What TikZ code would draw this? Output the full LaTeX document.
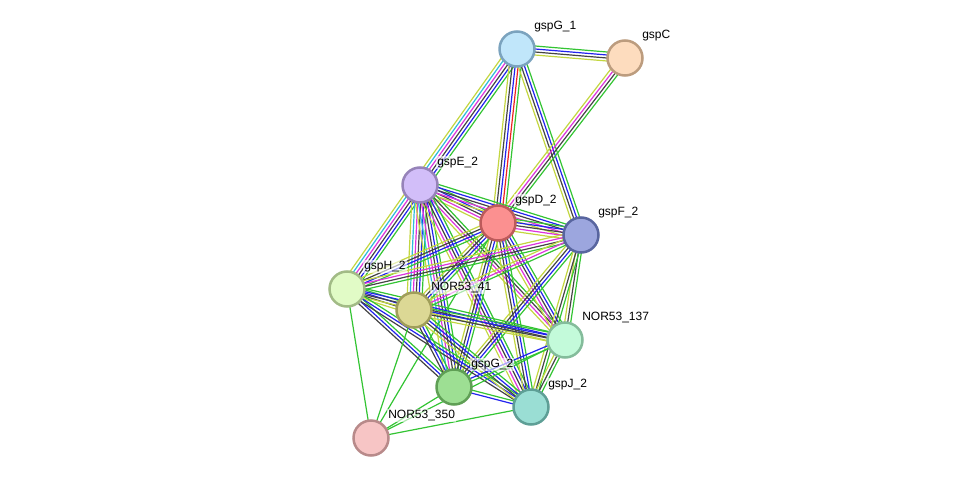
\documentclass[tikz,border=0pt]{standalone}
\usepackage{fontspec}
\setmainfont{Liberation Sans}
\usetikzlibrary{calc,backgrounds}

% evidence colours
\definecolor{cTxt}{HTML}{C3D640}
\definecolor{cDb}{HTML}{2EBBDB}
\definecolor{cExp}{HTML}{DD33DD}
\definecolor{cCoex}{HTML}{444444}
\definecolor{cCooc}{HTML}{2222EE}
\definecolor{cFus}{HTML}{EE2222}
\definecolor{cNbh}{HTML}{33C433}

% #1, #2 node names, #3 list of colours
\newcommand\link[3]{%
  \foreach \c [count=\i] in {#3} {\xdef\nlines{\i}}
  \foreach \c [count=\i] in {#3} {
    \pgfmathsetmacro\off{(\i-(\nlines+1)/2)*3}
    \draw[color=\c, line width=1.2pt] ($(#1.center)!\off pt!90:(#2.center)$) -- ($(#2.center)!\off pt!-90:(#1.center)$);
  }
}

\begin{document}
\begin{tikzpicture}[x=1pt, y=-1pt,
  prot/.style={circle, draw, line width=2.5pt, minimum size=35pt, inner sep=0pt,
    label={[lbl]north east:#1}},
  lbl/.style={font=\fontsize{12}{14}\selectfont, inner sep=1pt, fill=white,
    fill opacity=0.6, text opacity=1, label distance=4pt}]
  \useasboundingbox (0,0) rectangle (976,484);

  \node[prot=gspG\_1, fill={rgb,255:red,192;green,230;blue,250}, draw={rgb,255:red,123;green,163;blue,190}] (gspGa) at (517,49) {};
  \node[prot=gspC, fill={rgb,255:red,253;green,220;blue,190}, draw={rgb,255:red,188;green,156;blue,126}] (gspC) at (625,58) {};
  \node[prot=gspE\_2, fill={rgb,255:red,210;green,190;blue,249}, draw={rgb,255:red,150;green,131;blue,185}] (gspE) at (420,185) {};
  \node[prot=gspD\_2, fill={rgb,255:red,251;green,144;blue,144}, draw={rgb,255:red,189;green,91;blue,91}] (gspD) at (498,223) {};
  \node[prot=gspF\_2, fill={rgb,255:red,156;green,166;blue,222}, draw={rgb,255:red,88;green,101;blue,159}] (gspF) at (581,235) {};
  \node[prot=gspH\_2, fill={rgb,255:red,225;green,251;blue,198}, draw={rgb,255:red,162;green,187;blue,134}] (gspH) at (347,289) {};
  \node[prot=NOR53\_41, fill={rgb,255:red,220;green,216;blue,149}, draw={rgb,255:red,160;green,158;blue,90}] (nor41) at (414,310) {};
  \node[prot=NOR53\_137, fill={rgb,255:red,195;green,250;blue,218}, draw={rgb,255:red,132;green,188;blue,155}] (nor137) at (565,340) {};
  \node[prot=gspG\_2, fill={rgb,255:red,157;green,223;blue,147}, draw={rgb,255:red,95;green,159;blue,85}] (gspGb) at (454,387) {};
  \node[prot=gspJ\_2, fill={rgb,255:red,154;green,222;blue,212}, draw={rgb,255:red,94;green,159;blue,150}] (gspJ) at (531,407) {};
  \node[prot=NOR53\_350, fill={rgb,255:red,247;green,197;blue,197}, draw={rgb,255:red,184;green,138;blue,138}] (nor350) at (371,438) {};

  \begin{pgfonlayer}{background}
    \link{gspGa}{gspC}{cTxt,cCoex,cCooc,cNbh}
    \link{gspGa}{gspE}{cTxt,cDb,cExp,cCoex,cCooc,cNbh}
    \link{gspGa}{gspD}{cTxt,cCoex,cCooc,cFus,cNbh}
    \link{gspGa}{gspF}{cTxt,cCoex,cCooc,cNbh}
    \link{gspC}{gspD}{cTxt,cExp,cCoex,cNbh}
    \link{gspE}{gspD}{cTxt,cExp,cCoex,cCooc,cNbh}
    \link{gspE}{gspF}{cTxt,cExp,cCoex,cCooc,cNbh}
    \link{gspE}{gspH}{cTxt,cDb,cExp,cCoex,cCooc,cNbh}
    \link{gspE}{nor41}{cTxt,cDb,cExp,cCoex,cCooc,cNbh}
    \link{gspE}{nor137}{cTxt,cExp,cCoex,cNbh}
    \link{gspE}{gspGb}{cTxt,cDb,cExp,cCoex,cCooc,cNbh}
    \link{gspE}{gspJ}{cTxt,cExp,cCoex,cCooc,cNbh}
    \link{gspD}{gspF}{cTxt,cExp,cCoex,cCooc,cNbh}
    \link{gspD}{gspH}{cTxt,cCoex,cCooc,cNbh}
    \link{gspD}{nor41}{cTxt,cCoex,cCooc,cNbh}
    \link{gspD}{nor137}{cTxt,cExp,cCoex,cCooc,cNbh}
    \link{gspD}{gspGb}{cTxt,cCoex,cCooc,cNbh}
    \link{gspD}{gspJ}{cTxt,cCoex,cCooc,cNbh}
    \link{gspD}{nor350}{cNbh}
    \link{gspF}{gspH}{cTxt,cExp,cCoex,cNbh}
    \link{gspF}{nor41}{cTxt,cExp,cNbh}
    \link{gspF}{nor137}{cTxt,cCoex,cNbh}
    \link{gspF}{gspGb}{cTxt,cCoex,cCooc,cNbh}
    \link{gspF}{gspJ}{cTxt,cCoex,cNbh}
    \link{gspH}{nor41}{cTxt,cCoex,cCooc,cNbh}
    \link{gspH}{nor137}{cTxt,cCoex,cCooc,cNbh}
    \link{gspH}{gspGb}{cCoex,cCooc,cNbh}
    \link{gspH}{gspJ}{cCoex,cCooc,cNbh}
    \link{gspH}{nor350}{cNbh}
    \link{nor41}{nor137}{cTxt,cCoex,cCooc,cNbh}
    \link{nor41}{gspGb}{cCoex,cCooc,cNbh}
    \link{nor41}{gspJ}{cTxt,cCoex,cCooc,cNbh}
    \link{nor41}{nor350}{cNbh}
    \link{nor137}{gspGb}{cCooc,cNbh}
    \link{nor137}{gspJ}{cTxt,cCoex,cNbh}
    \link{nor137}{nor350}{cNbh}
    \link{gspGb}{gspJ}{cCooc,cNbh}
    \link{gspGb}{nor350}{cNbh}
    \link{gspJ}{nor350}{cNbh}
  \end{pgfonlayer}
\end{tikzpicture}
\end{document}
